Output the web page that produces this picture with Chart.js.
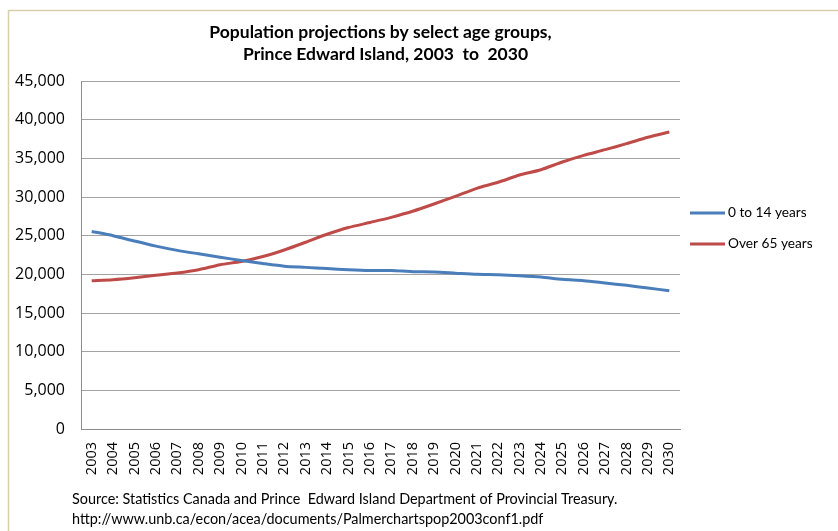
<!DOCTYPE html>
<html>
<head>
<meta charset="utf-8">
<script src="https://cdn.jsdelivr.net/npm/chart.js@4.4.1/dist/chart.umd.min.js"></script>
<style>
  html, body { margin: 0; padding: 0; background: #ffffff; }
  #wrap { width: 838px; height: 531px; }
</style>
</head>
<body>
<div id="wrap"><canvas id="chart" width="838" height="531"></canvas></div>
<script>
// Population projections, Prince Edward Island
const years = ['2003','2004','2005','2006','2007','2008','2009','2010','2011','2012','2013','2014','2015','2016',
               '2017','2018','2019','2020','2021','2022','2023','2024','2025','2026','2027','2028','2029','2030'];

const ages0to14 = [25550, 25000, 24300, 23650, 23100, 22650, 22200, 21800, 21400, 21050, 20900, 20750, 20600, 20500,
                   20500, 20350, 20300, 20150, 20000, 19950, 19830, 19660, 19350, 19180, 18880, 18580, 18230, 17880];

const agesOver65 = [19180, 19300, 19550, 19870, 20170, 20600, 21250, 21650, 22300, 23150, 24150, 25180, 26050, 26700,
                    27370, 28150, 29090, 30090, 31120, 31900, 32840, 33530, 34530, 35390, 36120, 36900, 37720, 38400];

const yTicks = [0, 5000, 10000, 15000, 20000, 25000, 30000, 35000, 40000, 45000];

const titleLines = ['Population projections by select age groups,', 'Prince Edward Island, 2003  to  2030'];
const sourceLines = ['Source: Statistics Canada and Prince  Edward Island Department of Provincial Treasury.',
                     'http://www.unb.ca/econ/acea/documents/Palmerchartspop2003conf1.pdf'];

const FONT = "Lato, 'Open Sans', 'Liberation Sans', sans-serif";
const TICK_FONT = "'Open Sans', Lato, 'Liberation Sans', sans-serif";

// Frame, title, legend and source notes drawn around the plot
const decorations = {
  id: 'decorations',
  beforeDraw(chart) {
    const ctx = chart.ctx;
    ctx.save();
    ctx.fillStyle = '#ffffff';
    ctx.fillRect(0, 0, chart.width, chart.height);
    ctx.strokeStyle = '#D6CFAE';
    ctx.lineWidth = 1.5;
    ctx.beginPath();
    ctx.moveTo(8.5, chart.height + 2);
    ctx.lineTo(8.5, 10.5);
    ctx.lineTo(chart.width + 2, 10.5);
    ctx.stroke();
    ctx.restore();
  },
  afterDraw(chart) {
    const ctx = chart.ctx;
    const area = chart.chartArea;
    ctx.save();
    ctx.fillStyle = '#000000';
    ctx.textBaseline = 'middle';

    // title
    ctx.font = "bold 17.5px " + FONT;
    ctx.textAlign = 'center';
    const cx = (area.left + area.right) / 2;
    ctx.fillText(titleLines[0], cx, 32);
    ctx.fillText(titleLines[1], cx + 5, 54);

    // legend
    ctx.textAlign = 'left';
    ctx.font = "13.7px " + FONT;
    chart.data.datasets.forEach((ds, i) => {
      const y = 213 + i * 31;
      ctx.strokeStyle = ds.borderColor;
      ctx.lineWidth = 3;
      ctx.beginPath();
      ctx.moveTo(690, y);
      ctx.lineTo(725, y);
      ctx.stroke();
      ctx.fillText(ds.label, 728, y);
    });

    // source notes
    ctx.font = "14.4px " + FONT;
    ctx.fillText(sourceLines[0], 72, 499);
    ctx.fillText(sourceLines[1], 72, 519);
    ctx.restore();
  }
};

new Chart(document.getElementById('chart'), {
  type: 'line',
  data: {
    labels: years,
    datasets: [
      { label: '0 to 14 years', data: ages0to14, borderColor: '#4A7EBB', backgroundColor: '#4A7EBB',
        borderWidth: 3, pointRadius: 0, tension: 0.25, fill: false },
      { label: 'Over 65 years', data: agesOver65, borderColor: '#BE4B48', backgroundColor: '#BE4B48',
        borderWidth: 3, pointRadius: 0, tension: 0.25, fill: false }
    ]
  },
  options: {
    responsive: false,
    animation: false,
    devicePixelRatio: 1,
    layout: { padding: { top: 81, left: 0, right: 158, bottom: 42 } },
    plugins: {
      legend: { display: false },
      title: { display: false },
      tooltip: { enabled: false }
    },
    scales: {
      x: {
        type: 'category',
        offset: true,
        grid: { display: false, drawTicks: false },
        border: { display: true, color: '#8C8C8C', width: 1 },
        ticks: {
          color: '#000000',
          font: { family: TICK_FONT, size: 14.5 },
          minRotation: 90, maxRotation: 90,
          autoSkip: false,
          padding: 13
        },
        afterFit(scale) { scale.height = 60; }
      },
      y: {
        min: 0, max: 45000,
        afterBuildTicks(scale) { scale.ticks = yTicks.map(v => ({ value: v })); },
        grid: { color: '#A3A3A3', lineWidth: 1, drawTicks: false },
        border: { display: true, color: '#8C8C8C', width: 1 },
        ticks: {
          color: '#000000',
          font: { family: TICK_FONT, size: 16 },
          padding: 16,
          callback: (v) => v.toLocaleString('en-US')
        },
        afterFit(scale) { scale.width = 81; }
      }
    }
  },
  plugins: [decorations]
});
</script>
</body>
</html>
